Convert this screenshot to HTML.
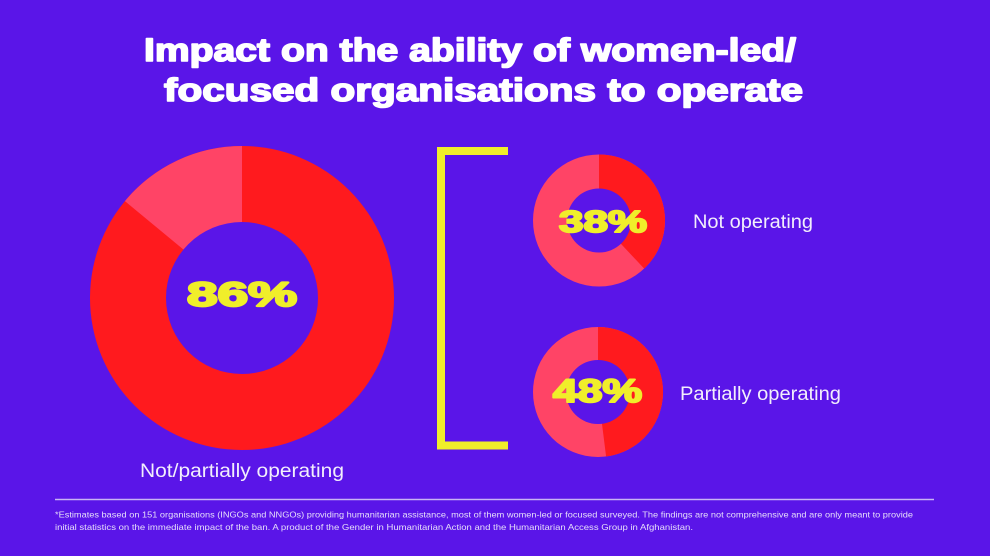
<!DOCTYPE html>
<html>
<head>
<meta charset="utf-8">
<style>
  html,body{margin:0;padding:0;background:#5a15e8;}
  svg{display:block;}
</style>
</head>
<body>
<svg width="990" height="556" viewBox="0 0 990 556" xmlns="http://www.w3.org/2000/svg">
  <rect x="0" y="0" width="990" height="556" fill="#5a15e8"/>

  <!-- Title -->
  <text x="144" y="61" font-family="Liberation Sans, sans-serif" font-weight="bold" font-size="32" fill="#ffffff" stroke="#ffffff" stroke-width="1.6" stroke-linejoin="round" textLength="652" lengthAdjust="spacingAndGlyphs">Impact on the ability of women-led/</text>
  <text x="164" y="101" font-family="Liberation Sans, sans-serif" font-weight="bold" font-size="32" fill="#ffffff" stroke="#ffffff" stroke-width="1.6" stroke-linejoin="round" textLength="639" lengthAdjust="spacingAndGlyphs">focused organisations to operate</text>

  <!-- Big donut -->
  <circle cx="242" cy="298" r="152" fill="#ff1a1e"/>
  <path d="M242,298 L124.9,201.1 A152,152 0 0,1 242,146 Z" fill="#ff4466"/>
  <circle cx="242" cy="298" r="76" fill="#5a15e8"/>
  <text x="187" y="306" font-family="Liberation Sans, sans-serif" font-weight="bold" font-size="34" fill="#f0ee2a" stroke="#f0ee2a" stroke-width="2.2" stroke-linejoin="round" textLength="110" lengthAdjust="spacingAndGlyphs">86%</text>
  <text x="140" y="477" font-family="Liberation Sans, sans-serif" font-size="19" fill="#f2eefc" textLength="204" lengthAdjust="spacingAndGlyphs">Not/partially operating</text>

  <!-- Bracket -->
  <path d="M508,151 L441,151 L441,445.5 L508,445.5" fill="none" stroke="#f0ee2a" stroke-width="8"/>

  <!-- Small donut 1 -->
  <circle cx="599" cy="220.5" r="66" fill="#ff4466"/>
  <path d="M599,220.5 L599,154.5 A66,66 0 0,1 644.2,268.6 Z" fill="#ff1a1e"/>
  <circle cx="599" cy="220.5" r="32" fill="#5a15e8"/>
  <text x="559" y="232" font-family="Liberation Sans, sans-serif" font-weight="bold" font-size="31" fill="#f0ee2a" stroke="#f0ee2a" stroke-width="2" stroke-linejoin="round" textLength="88" lengthAdjust="spacingAndGlyphs">38%</text>
  <text x="693" y="228" font-family="Liberation Sans, sans-serif" font-size="19" fill="#f2eefc" textLength="120" lengthAdjust="spacingAndGlyphs">Not operating</text>

  <!-- Small donut 2 -->
  <circle cx="598" cy="392" r="65" fill="#ff4466"/>
  <path d="M598,392 L598,327 A65,65 0 0,1 606.1,456.5 Z" fill="#ff1a1e"/>
  <circle cx="598" cy="392" r="32" fill="#5a15e8"/>
  <text x="553" y="402" font-family="Liberation Sans, sans-serif" font-weight="bold" font-size="32" fill="#f0ee2a" stroke="#f0ee2a" stroke-width="2" stroke-linejoin="round" textLength="89" lengthAdjust="spacingAndGlyphs">48%</text>
  <text x="680" y="400" font-family="Liberation Sans, sans-serif" font-size="19" fill="#f2eefc" textLength="161" lengthAdjust="spacingAndGlyphs">Partially operating</text>

  <!-- Footer -->
  <line x1="55" y1="499.5" x2="934" y2="499.5" stroke="#c8b4f4" stroke-width="1.5"/>
  <text x="55" y="517.5" font-family="Liberation Sans, sans-serif" font-size="8.5" fill="#e6defa" textLength="858" lengthAdjust="spacingAndGlyphs">*Estimates based on 151 organisations (INGOs and NNGOs) providing humanitarian assistance, most of them women-led or focused surveyed. The findings are not comprehensive and are only meant to provide</text>
  <text x="55" y="530" font-family="Liberation Sans, sans-serif" font-size="8.5" fill="#e6defa" textLength="638" lengthAdjust="spacingAndGlyphs">initial statistics on the immediate impact of the ban. A product of the Gender in Humanitarian Action and the Humanitarian Access Group in Afghanistan.</text>
</svg>
</body>
</html>
